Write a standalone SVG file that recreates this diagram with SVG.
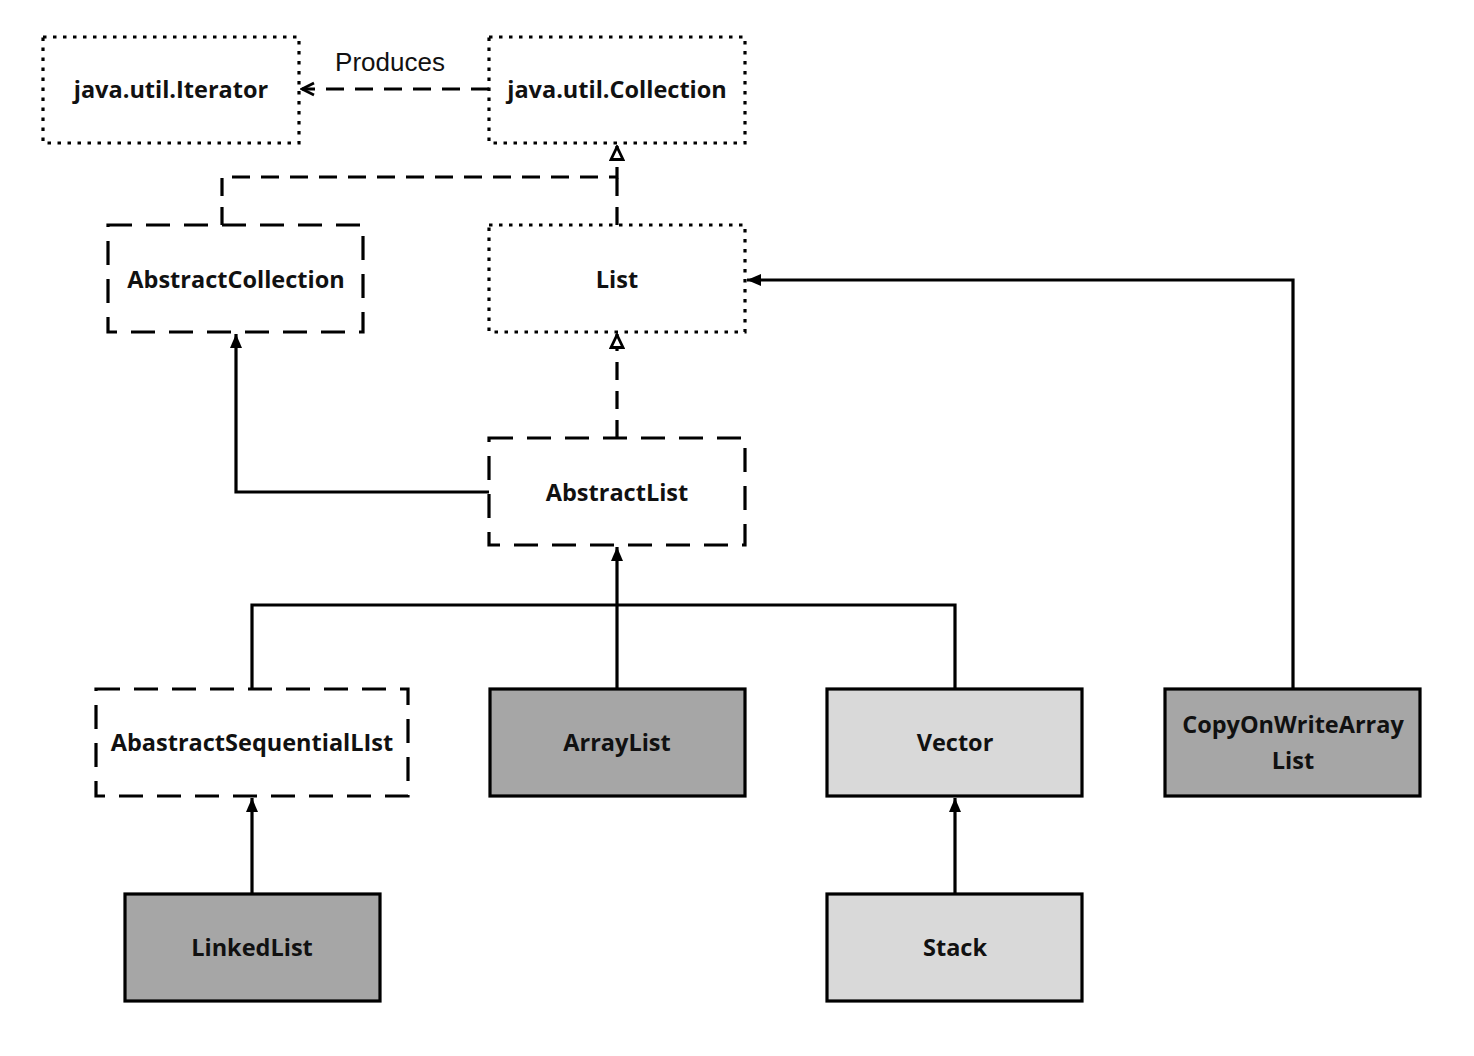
<svg xmlns="http://www.w3.org/2000/svg" width="1474" height="1056" viewBox="0 0 1474 1056">
<style>
.box{stroke:#000;stroke-width:3.2}
.dot{fill:#fff;stroke-dasharray:3.5 6.5}
.dash{fill:#fff;stroke-dasharray:24 14}
.dark{fill:#a6a6a6}
.light{fill:#d9d9d9}
.lbl{font-family:"Open Sans","Noto Sans",sans-serif;font-weight:bold;font-size:23.5px;text-anchor:middle;fill:#111}
.edge{fill:none;stroke:#000;stroke-width:3.2}
.dsh{stroke-dasharray:18 11}
.note{font-family:"Liberation Sans",Arial,sans-serif;font-size:26px;fill:#111;text-anchor:middle}
</style>
<defs>
<marker id="fill" viewBox="0 0 14 16" refX="14" refY="8" markerWidth="14" markerHeight="16" markerUnits="userSpaceOnUse" orient="auto"><path d="M0,2 L14,8 L0,14 Z" fill="#000"/></marker>
<marker id="hollow" viewBox="0 0 16 16" refX="15" refY="8" markerWidth="16" markerHeight="16" markerUnits="userSpaceOnUse" orient="auto"><path d="M1.5,2 L14,8 L1.5,14 Z" fill="#fff" stroke="#000" stroke-width="2.8"/></marker>
<marker id="open" viewBox="0 0 16 16" refX="14" refY="8" markerWidth="16" markerHeight="16" markerUnits="userSpaceOnUse" orient="auto"><path d="M2,2 L14,8 L2,14" fill="none" stroke="#000" stroke-width="2.8"/></marker>
</defs>
<g id="connectors">
<path class="edge dsh" d="M489,89 L302,89" marker-end="url(#open)"/>
<text class="note" x="390" y="71">Produces</text>
<path class="edge dsh" d="M222,225 L222,177 L617,177 L617,146" marker-end="url(#hollow)"/>
<path class="edge dsh" d="M617,225 L617,177"/>
<path class="edge dsh" d="M617,438 L617,334" marker-end="url(#hollow)"/>
<path class="edge" d="M489,492 L236,492 L236,334" marker-end="url(#fill)"/>
<path class="edge" d="M617,689 L617,547" marker-end="url(#fill)"/>
<path class="edge" d="M252,689 L252,605 L955,605 L955,689"/>
<path class="edge" d="M1293,689 L1293,280 L747,280" marker-end="url(#fill)"/>
<path class="edge" d="M252,894 L252,798" marker-end="url(#fill)"/>
<path class="edge" d="M955,894 L955,798" marker-end="url(#fill)"/>
</g>
<g id="iterator"><rect class="box dot" x="43" y="37" width="256" height="106"/><text class="lbl" x="171" y="98">java.util.Iterator</text></g>
<g id="collection"><rect class="box dot" x="489" y="37" width="256" height="106"/><text class="lbl" x="617" y="98">java.util.Collection</text></g>
<g id="abstractcollection"><rect class="box dash" x="108" y="225" width="255" height="107"/><text class="lbl" x="236" y="288">AbstractCollection</text></g>
<g id="list"><rect class="box dot" x="489" y="225" width="256" height="107"/><text class="lbl" x="617" y="288">List</text></g>
<g id="abstractlist"><rect class="box dash" x="489" y="438" width="256" height="107"/><text class="lbl" x="617" y="501">AbstractList</text></g>
<g id="abstractsequentiallist"><rect class="box dash" x="96" y="689" width="312" height="107"/><text class="lbl" x="252" y="751">AbastractSequentialLIst</text></g>
<g id="arraylist"><rect class="box dark" x="490" y="689" width="255" height="107"/><text class="lbl" x="617" y="751">ArrayList</text></g>
<g id="vector"><rect class="box light" x="827" y="689" width="255" height="107"/><text class="lbl" x="955" y="751">Vector</text></g>
<g id="copyonwritearraylist"><rect class="box dark" x="1165" y="689" width="255" height="107"/><text class="lbl" x="1293" y="733">CopyOnWriteArray</text><text class="lbl" x="1293" y="769">List</text></g>
<g id="linkedlist"><rect class="box dark" x="125" y="894" width="255" height="107"/><text class="lbl" x="252" y="956">LinkedList</text></g>
<g id="stack"><rect class="box light" x="827" y="894" width="255" height="107"/><text class="lbl" x="955" y="956">Stack</text></g>
</svg>
